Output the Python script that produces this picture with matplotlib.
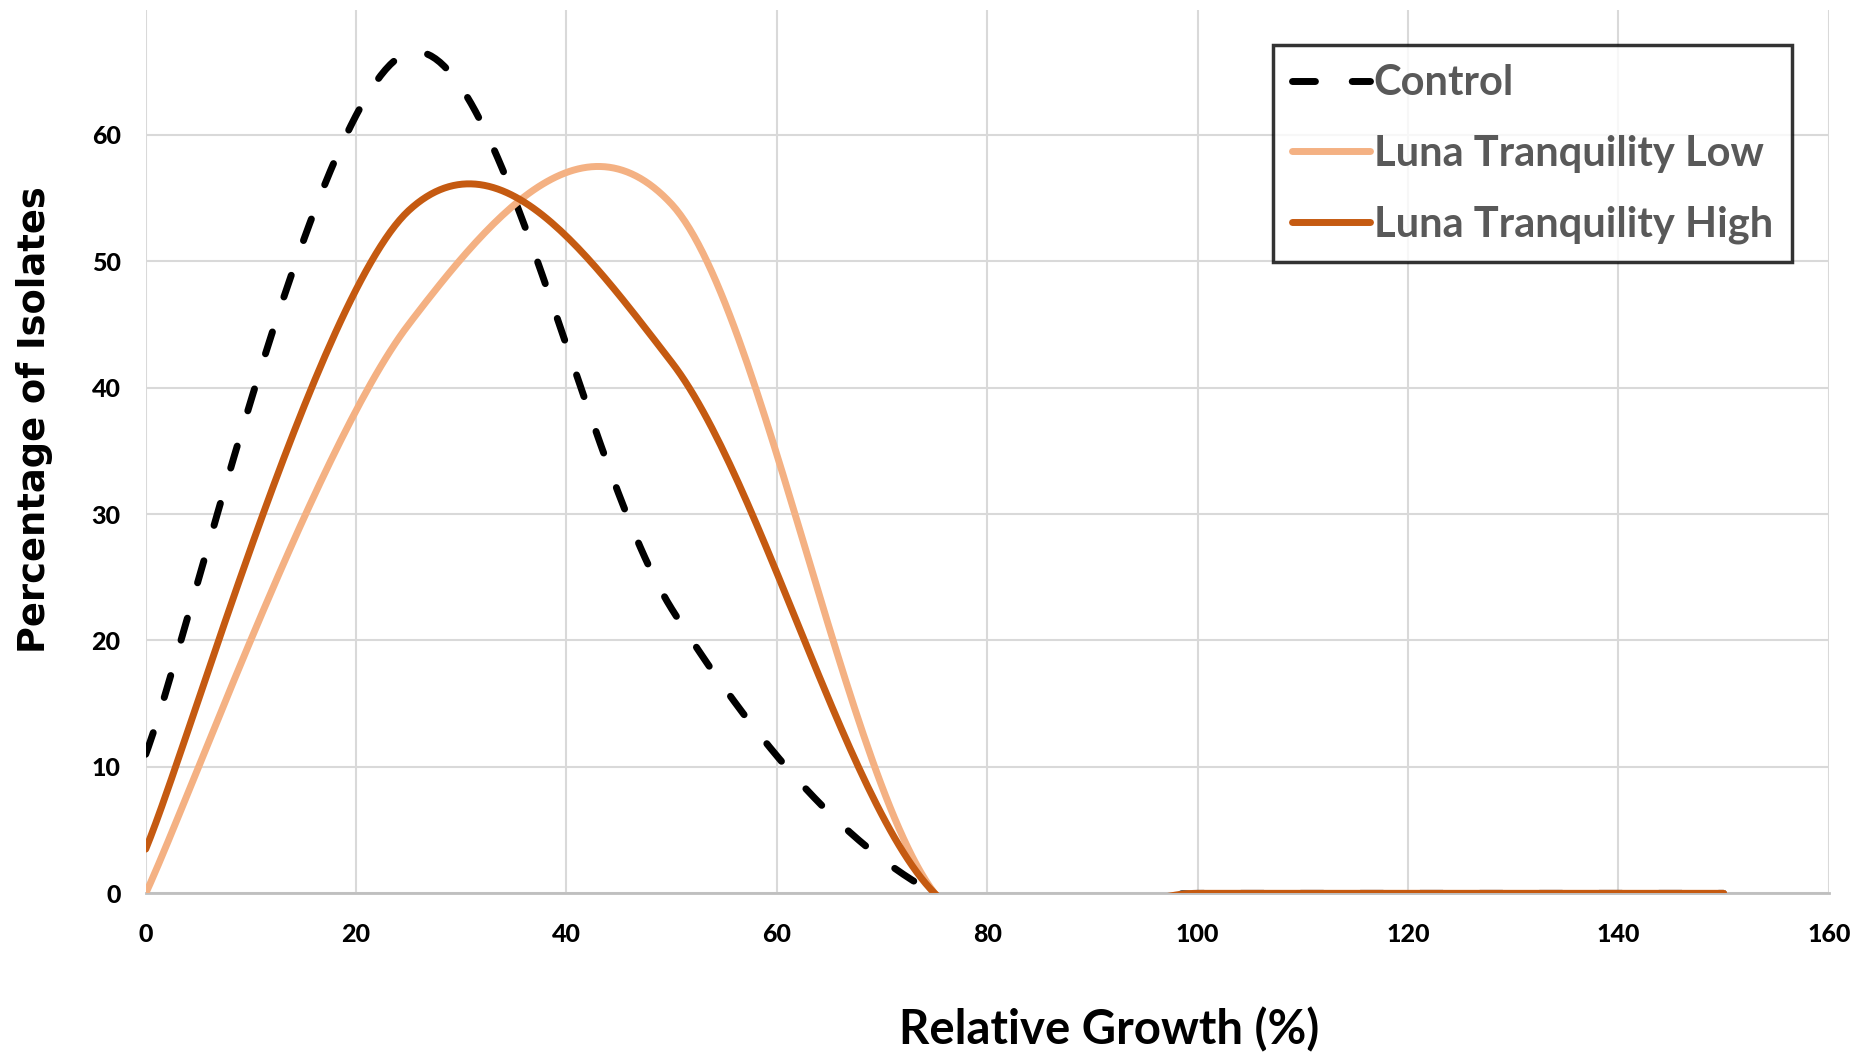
import numpy as np
import matplotlib.pyplot as plt

# Data
growth = [0, 25, 50, 75, 100, 125, 150]
control = [11, 66.5, 22.5, 0, 0, 0, 0]
luna_low = [0, 45, 54.5, 0, 0, 0, 0]
luna_high = [3.5, 54, 42, 0, 0, 0, 0]

x_ticks = [0, 20, 40, 60, 80, 100, 120, 140, 160]
y_ticks = [0, 10, 20, 30, 40, 50, 60]


# Excel-style smoothed line (Catmull-Rom as cubic Bezier segments)
def smooth(xs, ys, n=60):
    p = np.column_stack([xs, ys]).astype(float)
    p = np.vstack([p[0], p, p[-1]])
    out = []
    t = np.linspace(0, 1, n)[:, None]
    for i in range(1, len(p) - 2):
        p0, p3 = p[i], p[i + 1]
        c1 = p0 + (p[i + 1] - p[i - 1]) / 6
        c2 = p3 - (p[i + 2] - p[i]) / 6
        seg = ((1 - t) ** 3) * p0 + 3 * ((1 - t) ** 2) * t * c1 + 3 * (1 - t) * t ** 2 * c2 + t ** 3 * p3
        out.append(seg if i == 1 else seg[1:])
    out = np.vstack(out)
    return out[:, 0], out[:, 1]


fig = plt.figure(figsize=(18.73, 10.56), dpi=100)
ax = fig.add_axes([0.0778, 0.154, 0.8986, 0.837])

lw = 5.0
sx, sy = smooth(growth, control)
ax.plot(sx, sy, color='black', lw=lw, linestyle=(0, (3.3, 5.3)),
        dash_capstyle='round', label='Control', zorder=3)
sx, sy = smooth(growth, luna_low)
ax.plot(sx, sy, color='#F4B183', lw=lw, solid_capstyle='round',
        label='Luna Tranquility Low', zorder=3)
sx, sy = smooth(growth, luna_high)
ax.plot(sx, sy, color='#C55A11', lw=lw, solid_capstyle='round',
        label='Luna Tranquility High', zorder=3)

ax.set_xlim(0, 160)
ax.set_ylim(0, 69.9)
ax.set_xticks(x_ticks)
ax.set_yticks(y_ticks)
ax.grid(True, color='#D9D9D9', lw=1.5, zorder=0)
ax.set_axisbelow(True)
for s in ['top', 'left', 'right']:
    ax.spines[s].set_visible(False)
ax.spines['bottom'].set_color('#BFBFBF')
ax.spines['bottom'].set_linewidth(2)
ax.tick_params(length=0)
ax.tick_params(axis='x', pad=21)
ax.tick_params(axis='y', pad=18)
for lab in ax.get_xticklabels() + ax.get_yticklabels():
    lab.set_family('Lato')
    lab.set_fontweight('black')
    lab.set_fontsize(18)

fig.text(0.0185, 0.603, 'Percentage of Isolates', rotation=90, ha='center', va='center',
         fontsize=26.5, fontweight='bold', family='DejaVu Sans')
fig.text(0.592, 0.0246, 'Relative Growth (%)', ha='center', va='center',
         fontsize=34, fontweight='bold', family='Lato')

leg = ax.legend(loc='upper right', bbox_to_anchor=(0.9566, 0.957),
                bbox_transform=fig.transFigure, fancybox=False, frameon=True,
                handlelength=1.86, handletextpad=0.1, labelspacing=0.78,
                borderpad=0.45, borderaxespad=0,
                prop={'family': 'Lato', 'weight': 'bold', 'size': 30})
leg.get_frame().set_edgecolor('black')
leg.get_frame().set_linewidth(2.5)
for txt in leg.get_texts():
    txt.set_color('#595959')

fig.savefig('out.png', dpi=100)
